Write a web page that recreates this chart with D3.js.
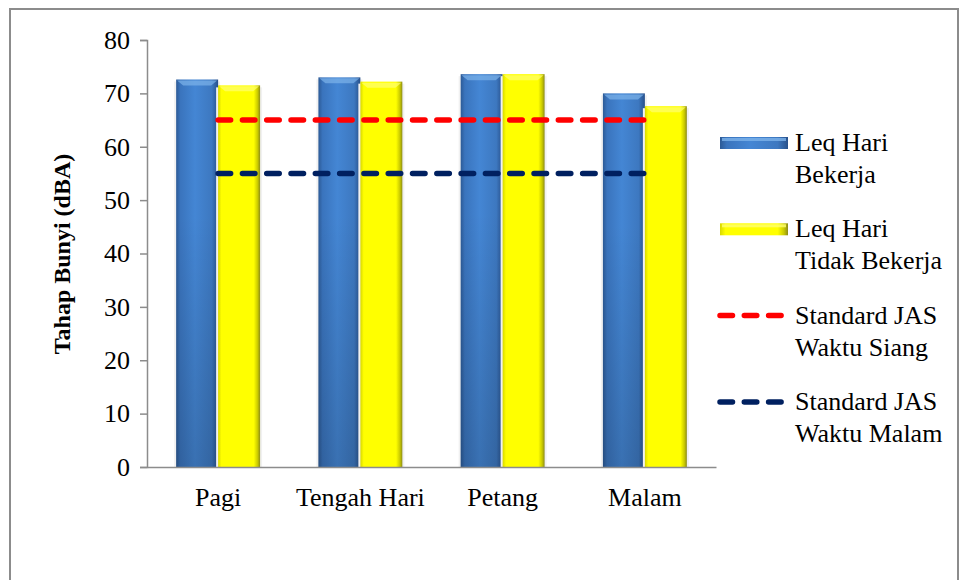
<!DOCTYPE html>
<html>
<head>
<meta charset="utf-8">
<script src="https://cdn.jsdelivr.net/npm/d3@7"></script>
<style>
  html, body { margin: 0; padding: 0; background: #fff; }
  svg text { font-family: "Liberation Serif", "Times New Roman", "DejaVu Serif", serif; fill: #000; }
</style>
</head>
<body>
<svg width="960" height="580"></svg>
<script>
'use strict';
// data
var categories = ["Pagi", "Tengah Hari", "Petang", "Malam"];
var leqBekerja = [72.6, 73.0, 73.6, 70.0];
var leqTidakBekerja = [71.5, 72.2, 73.6, 67.6];
var standardSiang = [65, 65, 65, 65];
var standardMalam = [55, 55, 55, 55];
var yTicks = [0, 10, 20, 30, 40, 50, 60, 70, 80];
var seriesNames = ["bekerja", "tidak"];
var legendLabels = [
  ["Leq Hari", "Bekerja"],
  ["Leq Hari", "Tidak Bekerja"],
  ["Standard JAS", "Waktu Siang"],
  ["Standard JAS", "Waktu Malam"]
];

var svg = d3.select("svg");
var defs = svg.append("defs");
var FS = 26;

// outer frame
svg.append("rect")
  .attr("x", 10).attr("y", 9)
  .attr("width", 948).attr("height", 600)
  .attr("fill", "none").attr("stroke", "#8c8c8c").attr("stroke-width", 2);

var y = d3.scaleLinear().domain([0, 80]).range([467, 40]);
var x0 = d3.scaleBand().domain(categories).range([147, 716])
  .paddingInner(0.41).paddingOuter(0.205);
var x1 = d3.scaleBand().domain(seriesNames).range([0, x0.bandwidth()]);

// gradients for the bevelled bars
function hGrad(id, stops) {
  var g = defs.append("linearGradient").attr("id", id)
    .attr("x1", "0").attr("x2", "1").attr("y1", "0").attr("y2", "0");
  stops.forEach(function(s) {
    g.append("stop").attr("offset", s[0]).attr("stop-color", s[1]);
  });
}
hGrad("blueH", [[0, "#2c5a96"], [0.1, "#3a74bd"], [0.45, "#4486d4"], [0.85, "#3d78c0"], [1, "#28508a"]]);
hGrad("yellowH", [[0, "#d8d800"], [0.08, "#ffff00"], [0.85, "#ffff00"], [0.94, "#caca00"], [1, "#8c8c18"]]);
var shade = defs.append("linearGradient").attr("id", "shadeV")
  .attr("x1", "0").attr("x2", "0").attr("y1", "0").attr("y2", "1");
shade.append("stop").attr("offset", 0).attr("stop-color", "#000").attr("stop-opacity", 0);
shade.append("stop").attr("offset", 0.35).attr("stop-color", "#000").attr("stop-opacity", 0);
shade.append("stop").attr("offset", 1).attr("stop-color", "#000").attr("stop-opacity", 0.16);

var rows = categories.map(function(c, i) {
  return {cat: c, vals: [
    {key: "bekerja", v: leqBekerja[i]},
    {key: "tidak", v: leqTidakBekerja[i]}
  ]};
});

var fills = {bekerja: "url(#blueH)", tidak: "url(#yellowH)"};
var caps = {bekerja: "#7db3ea", tidak: "#ffff70"};

var groups = svg.append("g").selectAll("g")
  .data(rows).enter().append("g")
  .attr("transform", function(d) { return "translate(" + x0(d.cat) + ",0)"; });

var bars = groups.selectAll(".bar").data(function(d) { return d.vals; })
  .enter().append("g").attr("class", "bar");

// faint glow around each bar
bars.append("rect")
  .attr("x", function(d) { return x1(d.key) - 2; })
  .attr("y", function(d) { return y(d.v) + 2; })
  .attr("width", x1.bandwidth() + 4)
  .attr("height", function(d) { return y(0) - y(d.v) - 2; })
  .attr("fill", "#f1f1f1");

bars.append("rect")
  .attr("x", function(d) { return x1(d.key); })
  .attr("y", function(d) { return y(d.v); })
  .attr("width", x1.bandwidth())
  .attr("height", function(d) { return y(0) - y(d.v); })
  .attr("fill", function(d) { return fills[d.key]; });

// darker lower part only on the blue bars
bars.filter(function(d) { return d.key === "bekerja"; }).append("rect")
  .attr("x", function(d) { return x1(d.key); })
  .attr("y", function(d) { return y(d.v); })
  .attr("width", x1.bandwidth())
  .attr("height", function(d) { return y(0) - y(d.v); })
  .attr("fill", "url(#shadeV)");

// top bevel
bars.append("path")
  .attr("d", function(d) {
    var l = x1(d.key), r = l + x1.bandwidth(), t = y(d.v);
    return "M" + (l + 1) + "," + (t + 1) + "L" + (r - 1) + "," + (t + 1) + "L" + (r - 7) + "," + (t + 6) +
      "L" + (l + 7) + "," + (t + 6) + "Z";
  })
  .attr("fill", function(d) { return caps[d.key]; })
  .attr("opacity", 0.7);

// axes
var yAxis = svg.append("g")
  .attr("transform", "translate(147,0)")
  .call(d3.axisLeft(y).tickValues(yTicks).tickSize(7).tickPadding(10));
yAxis.attr("font-family", null);
yAxis.select(".domain").attr("stroke", "#8c8c8c").attr("stroke-width", 1.5);
yAxis.selectAll(".tick line").attr("stroke", "#8c8c8c").attr("stroke-width", 1.5);
yAxis.selectAll(".tick text").attr("font-size", FS).attr("fill", "#000");

var xAxis = svg.append("g")
  .attr("transform", "translate(0," + y(0) + ")")
  .call(d3.axisBottom(x0).tickSize(0).tickPadding(21));
xAxis.attr("font-family", null);
xAxis.select(".domain").attr("stroke", "#8c8c8c").attr("stroke-width", 1.5);
xAxis.selectAll(".tick text").attr("font-size", FS).attr("fill", "#000");

svg.append("text")
  .attr("transform", "translate(70,254) rotate(-90)")
  .attr("text-anchor", "middle")
  .attr("font-size", 24).attr("font-weight", "bold")
  .text("Tahap Bunyi (dBA)");

// standard lines through category centres
var line = d3.line()
  .x(function(d, i) { return x0(categories[i]) + x0.bandwidth() / 2; })
  .y(function(d) { return y(d); });

[[standardSiang, "#ff0000"], [standardMalam, "#002060"]].forEach(function(s) {
  svg.append("path")
    .attr("d", line(s[0]))
    .attr("fill", "none")
    .attr("stroke", s[1])
    .attr("stroke-width", 5.5)
    .attr("stroke-linecap", "round")
    .attr("stroke-dasharray", "12.5,11.8");
});

// legend
var legend = svg.append("g");
var legendKinds = [
  {type: "bar", fill: "url(#blueH)", cap: "#7db3ea"},
  {type: "bar", fill: "url(#yellowH)", cap: "#ffff70"},
  {type: "line", color: "#ff0000"},
  {type: "line", color: "#002060"}
];
legendKinds.forEach(function(k, i) {
  var cy = 143 + i * 86.3;
  if (k.type === "bar") {
    legend.append("rect").attr("x", 720).attr("y", cy - 6)
      .attr("width", 68).attr("height", 12).attr("fill", k.fill);
    legend.append("rect").attr("x", 722).attr("y", cy - 5)
      .attr("width", 64).attr("height", 3).attr("fill", k.cap).attr("opacity", 0.8);
  } else {
    legend.append("line")
      .attr("x1", 720).attr("x2", 782).attr("y1", cy).attr("y2", cy)
      .attr("stroke", k.color).attr("stroke-width", 5.5)
      .attr("stroke-linecap", "round")
      .attr("stroke-dasharray", "12.5,11.8");
  }
  legend.append("text").attr("x", 795).attr("y", cy + 8)
    .attr("font-size", FS).text(legendLabels[i][0]);
  legend.append("text").attr("x", 795).attr("y", cy + 40)
    .attr("font-size", FS).text(legendLabels[i][1]);
});
</script>
</body>
</html>
